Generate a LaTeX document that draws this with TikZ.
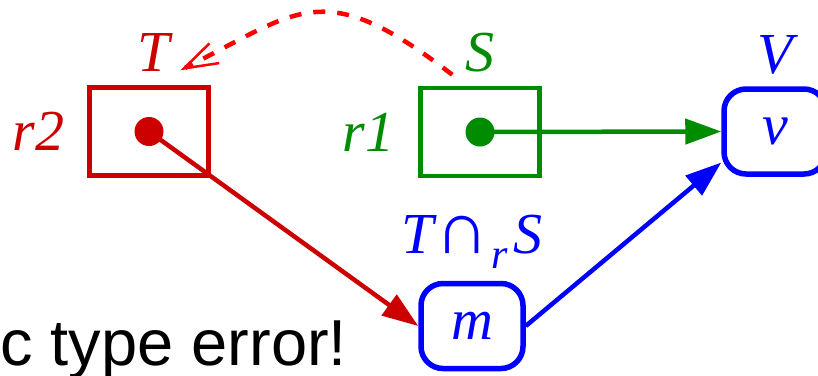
\documentclass[tikz,border=0pt]{standalone}
\usepackage{fontspec}
\setmainfont{Liberation Serif}
\newfontfamily\errfont{Liberation Sans}
\usetikzlibrary{arrows.meta, positioning, calc}
\definecolor{BoxRed}{RGB}{204, 0, 0}
\definecolor{DashRed}{RGB}{255, 0, 0}
\definecolor{RefGreen}{RGB}{0, 140, 0}
\definecolor{ValBlue}{RGB}{0, 0, 255}

\begin{document}
\begin{tikzpicture}[
    x=1pt, y=-1pt,
    font=\fontsize{58}{60}\selectfont\itshape,
    refbox/.style={rectangle, draw, line width=4.5pt, minimum width=119pt, minimum height=88pt, inner sep=0pt},
    valbox/.style={rectangle, draw=ValBlue, text=ValBlue, line width=5.5pt, rounded corners=22pt, minimum width=102pt, minimum height=85pt, inner sep=0pt},
    refdot/.style={circle, fill, inner sep=0pt, minimum size=29pt},
    tag/.style={inner sep=0pt},
    arrow/.style={-{Triangle[length=36pt, width=25pt]}, line width=4.5pt}
]
    \useasboundingbox (0,0) rectangle (818,375);
    \clip (0,0) rectangle (818,375);

    % Referenzen
    \node[refbox, draw=BoxRed] (r2box) at (149,131.5) {};
    \node[refdot, BoxRed] (r2dot) at (r2box.center) {};
    \node[tag, text=BoxRed, left=23pt of r2box] (r2name) {r2};
    \node[tag, text=BoxRed, above=14pt of r2box, xshift=5pt] (tname) {T};

    \node[refbox, draw=RefGreen] (r1box) at (480,132) {};
    \node[refdot, RefGreen] (r1dot) at (r1box.center) {};
    \node[tag, text=RefGreen, left=24pt of r1box] (r1name) {r1};
    \node[tag, text=RefGreen, above=13pt of r1box] (sname) {S};

    % Werte
    \node[valbox] (vbox) at (775,131.5) {v};
    \node[tag, text=ValBlue, above=12pt of vbox] (vname) {V};

    \node[valbox] (mbox) at (472,326) {m};
    \node[tag, text=ValBlue, above=12pt of mbox] (meet) {T\kern2pt{\upshape\fontsize{74}{74}\selectfont∩}\kern2pt\raisebox{-15pt}{\fontsize{42}{44}\selectfont\itshape r}\kern6pt S};

    % Fehlermeldung
    \node[anchor=base west, inner sep=0pt, font=\errfont\fontsize{65}{67}\selectfont] (errmsg) at (0,365) {c type error!};

    % Kanten
    \draw[arrow, RefGreen] (r1dot.center) -- (vbox.west);
    \draw[arrow, BoxRed] (r2dot.center) -- (mbox.west);
    \draw[arrow, ValBlue] (mbox.east) -- (vbox.210);
    \draw[DashRed, line width=4.5pt, dash pattern=on 12pt off 12pt,
          -{Straight Barb[length=34pt, width=22pt, line width=2.5pt]}]
        ($(sname.south west)+(-13,2)$) .. controls +(-130,-100) and +(120,-60) .. ($(tname.south east)+(10,-1)$);
\end{tikzpicture}
\end{document}
